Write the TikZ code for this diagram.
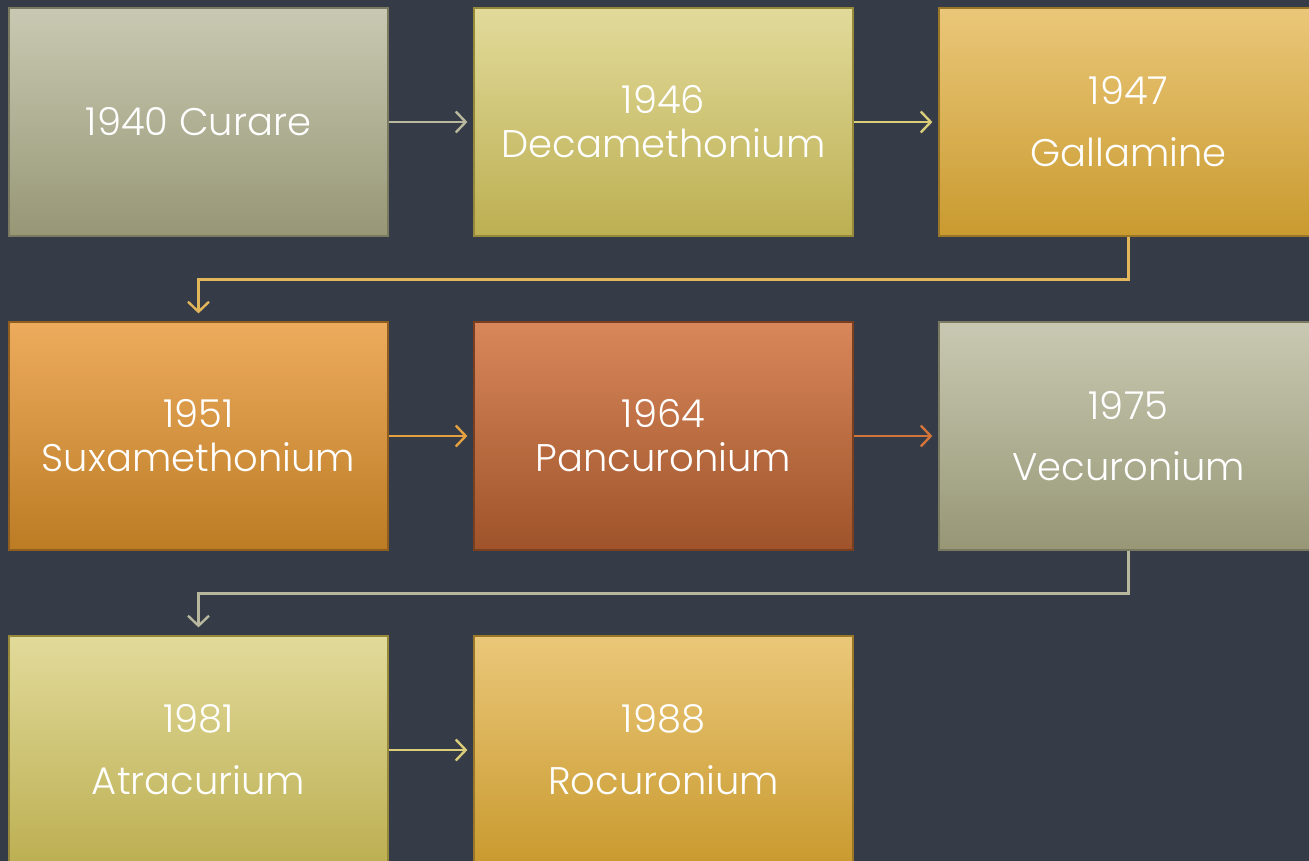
\documentclass[tikz,border=0pt]{standalone}
\usepackage{fontspec}
\setmainfont{Poppins Light}
\usetikzlibrary{arrows.meta}
\definecolor{bg}{HTML}{363C47}
\definecolor{grayT}{HTML}{C9C9B3}\definecolor{grayB}{HTML}{979776}\definecolor{grayD}{HTML}{7A7A60}
\definecolor{yelT}{HTML}{E2DA9A}\definecolor{yelB}{HTML}{BCAF52}\definecolor{yelD}{HTML}{968A3A}
\definecolor{golT}{HTML}{EAC779}\definecolor{golB}{HTML}{C99A2F}\definecolor{golD}{HTML}{9A7628}
\definecolor{orgT}{HTML}{EDAB5D}\definecolor{orgB}{HTML}{BB7C24}\definecolor{orgD}{HTML}{905E1E}
\definecolor{rstT}{HTML}{D8875A}\definecolor{rstB}{HTML}{9F532A}\definecolor{rstD}{HTML}{7A3E20}
\definecolor{aGray}{HTML}{B8B89E}\definecolor{aYel}{HTML}{D9CD7A}\definecolor{aGol}{HTML}{E2B65A}
\definecolor{aOrg}{HTML}{E5A040}\definecolor{aRst}{HTML}{D2733A}
\tikzset{
  box/.style={minimum width=379pt, minimum height=228pt, inner sep=0pt, text=white,
    font=\fontsize{38.5}{44}\selectfont, align=center, line width=1.2pt},
  boxgray/.style={box, top color=grayT, bottom color=grayB, draw=grayD},
  boxyel/.style={box, top color=yelT, bottom color=yelB, draw=yelD},
  boxgol/.style={box, top color=golT, bottom color=golB, draw=golD},
  boxorg/.style={box, top color=orgT, bottom color=orgB, draw=orgD},
  boxrst/.style={box, top color=rstT, bottom color=rstB, draw=rstD},
  conn/.style={draw=#1, line width=2.4pt, -{Straight Barb[length=10pt,width=21pt,line width=2.4pt]}, shorten >=6pt}
}
\begin{document}
\begin{tikzpicture}[x=1pt,y=-1pt]
\clip (0,0) rectangle (1309,861);
\fill[bg] (0,0) rectangle (1309,861);
\node[boxgray] (c1) at (198.5,122) {1940 Curare};
\node[boxyel]  (c2) at (663.5,122) {1946\\Decamethonium};
\node[boxgol]  (c3) at (1128.5,122) {1947\\[18pt]Gallamine};
\node[boxorg]  (c4) at (198.5,436) {1951\\Suxamethonium};
\node[boxrst]  (c5) at (663.5,436) {1964\\Pancuronium};
\node[boxgray] (c6) at (1128.5,436) {1975\\[17pt]Vecuronium};
\node[boxyel]  (c7) at (198.5,750) {1981\\[18pt]Atracurium};
\node[boxgol]  (c8) at (663.5,750) {1988\\[18pt]Rocuronium};
\draw[conn=aGray] (c1.east) -- (c2.west);
\draw[conn=aYel] (c2.east) -- (c3.west);
\draw[conn=aGol, shorten >=8pt] (c3.south) -- ++(0,43) -| (c4.north);
\draw[conn=aOrg] (c4.east) -- (c5.west);
\draw[conn=aRst] (c5.east) -- (c6.west);
\draw[conn=aGray, shorten >=8pt] (c6.south) -- ++(0,43) -| (c7.north);
\draw[conn=aYel] (c7.east) -- (c8.west);
\end{tikzpicture}
\end{document}
